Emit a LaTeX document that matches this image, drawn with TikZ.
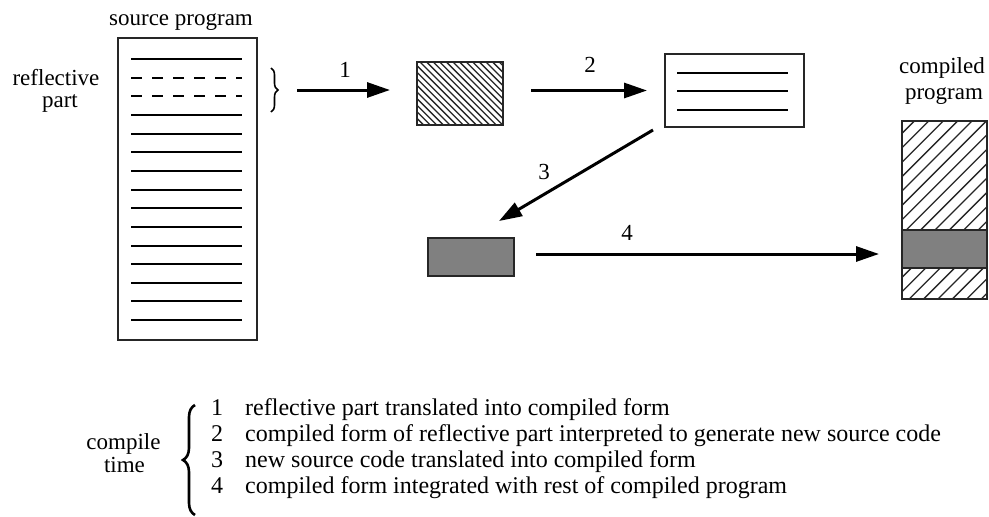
\documentclass[tikz,border=0pt]{standalone}
\usepackage{fontspec}
\setmainfont{Liberation Serif}
\usetikzlibrary{arrows.meta,decorations.pathreplacing}

\begin{document}
\begin{tikzpicture}[x=1pt,y=-1pt,
  box/.style={draw=black!85,line width=1.2pt,inner sep=0pt,outer sep=0pt,fill=white},
  codeline/.style={line width=2pt},
  dashline/.style={line width=2pt,dash pattern=on 11pt off 10pt},
  hatchline/.style={line width=1.3pt},
  arr/.style={line width=3pt,-{Triangle[length=23pt,width=15pt]}},
  lbl/.style={font=\fontsize{23}{26}\selectfont,inner sep=0pt,anchor=base},
  leg/.style={font=\fontsize{24}{26}\selectfont,inner sep=0pt,anchor=base},
  brc/.style={decorate,line width=1.6pt}]

\path[use as bounding box] (0,0) rectangle (989,517);

% source program with its code lines
\node[box,minimum width=139pt,minimum height=302pt] (src) at (187.5,189) {};
\foreach \k in {0,...,14}{
  \pgfmathsetmacro{\yy}{21+18.65*\k}
  \ifnum\k=1 \def\sty{dashline}\else\ifnum\k=2 \def\sty{dashline}\else\def\sty{codeline}\fi\fi
  \draw[\sty] ([shift={(13,\yy)}]src.north west) -- ++(111,0);
}
\node[lbl] (srclbl) at (181,25) {source program};
\node[lbl] (refl1) at (56,85) {reflective};
\node[lbl] (refl2) at (60,107) {part};
\draw[brc,decoration={brace,amplitude=7pt}] (271,68) -- (271,112);
\coordinate (bracetip) at (280,90);

% compiled form of the reflective part
\node[box,minimum width=86pt,minimum height=63pt,
  path picture={\foreach \i in {0,...,23}
    \draw[hatchline] ([xshift=\i*6.6pt-63pt]path picture bounding box.north west) -- ++(70,70);}]
  (hatch) at (460,93.5) {};

% generated source code
\node[box,minimum width=139pt,minimum height=73pt] (list) at (734.5,90.5) {};
\foreach \yy in {19,37,56}
  \draw[codeline] ([shift={(12,\yy)}]list.north west) -- ++(111,0);

% compiled new code
\node[box,fill=black!50,minimum width=86pt,minimum height=38pt] (gray) at (471,257) {};

% compiled program
\node[box,minimum width=85pt,minimum height=178pt,
  path picture={\foreach \i in {0,...,19}
    \draw[hatchline] ([xshift=\i*14.4pt-180pt]path picture bounding box.south west) -- ++(200,-200);}]
  (comp) at (944.5,210) {};
\node[box,fill=black!50,minimum width=85pt,minimum height=38pt] (band) at (944.5,249) {};
\node[lbl] (complbl1) at (942,73) {compiled};
\node[lbl] (complbl2) at (944,99) {program};

% steps
\draw[arr,shorten <=17pt,shorten >=27pt] (bracetip) -- (bracetip -| hatch.west);
\node[lbl] (n1) at (345,77) {1};
\draw[arr,shorten <=28pt,shorten >=18pt] (hatch.east |- list.west) -- (list.west);
\node[lbl] (n2) at (590,72) {2};
\draw[arr] ([shift={(-12,3)}]list.south west) -- ([shift={(-15,-17)}]gray.north east);
\node[lbl] (n3) at (544,179) {3};
\draw[arr,shorten <=22pt,shorten >=23pt] ([yshift=3pt]gray.east) -- ([yshift=3pt]gray.east -| band.west);
\node[lbl] (n4) at (627,240) {4};

% legend
\node[lbl] (ct1) at (123.5,449) {compile};
\node[lbl] (ct2) at (124.5,472) {time};
\draw[brc,line width=2.6pt,decoration={brace,amplitude=12pt}] (195,515) -- (195,405);
\foreach \n/\yy/\txt in {
  1/415/reflective part translated into compiled form,
  2/441/compiled form of reflective part interpreted to generate new source code,
  3/467/new source code translated into compiled form,
  4/493/compiled form integrated with rest of compiled program}{
  \node[leg] (d\n) at (217,\yy) {\n};
  \node[leg,anchor=base west] (t\n) at (245,\yy) {\txt};
}
\end{tikzpicture}
\end{document}
